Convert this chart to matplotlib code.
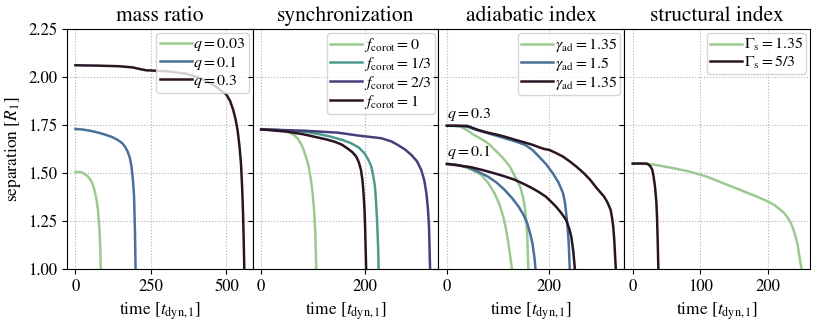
import numpy as np
import matplotlib
matplotlib.use("Agg")
import matplotlib.pyplot as plt

plt.rcParams['font.family'] = ['STIXGeneral', 'DejaVu Serif']
plt.rcParams['mathtext.fontset'] = 'stix'

green = '#9cc98f'
teal = '#4d9a90'
blue = '#4a7099'
indigo = '#453f7c'
dark = '#2a1424'

# mass ratio panel
t_q003 = [0, 15, 25, 35, 45, 55, 63, 70, 75, 79, 82, 84]
a_q003 = [1.505, 1.505, 1.50, 1.49, 1.475, 1.45, 1.41, 1.36, 1.30, 1.22, 1.12, 1.0]
t_q01 = [0, 20, 40, 60, 80, 100, 120, 140, 155, 165, 173, 180, 185, 190, 194, 197, 199]
a_q01 = [1.729, 1.727, 1.722, 1.716, 1.708, 1.699, 1.688, 1.672, 1.655, 1.635, 1.61,
         1.58, 1.54, 1.47, 1.38, 1.2, 1.0]
t_q03 = [0, 78, 144, 189, 211, 233, 300, 367, 411, 456, 500, 512, 522, 530, 537, 543,
         548, 552, 555, 557, 559]
a_q03 = [2.061, 2.059, 2.056, 2.050, 2.042, 2.035, 2.030, 2.017, 1.995, 1.960, 1.908,
         1.875, 1.83, 1.78, 1.72, 1.64, 1.55, 1.42, 1.28, 1.15, 1.0]

# synchronization panel
t_f0 = [0, 30, 44, 55, 63, 70, 76, 81, 86, 90, 92, 96, 99, 102, 104, 106]
a_f0 = [1.727, 1.724, 1.72, 1.71, 1.698, 1.68, 1.655, 1.625, 1.585, 1.55, 1.524, 1.46,
        1.394, 1.30, 1.2, 1.0]
t_f13 = [0, 40, 83, 110, 134, 155, 173, 188, 199, 206, 212, 216, 219, 221, 223, 225, 226]
a_f13 = [1.727, 1.723, 1.715, 1.703, 1.689, 1.673, 1.655, 1.632, 1.602, 1.57, 1.533,
         1.48, 1.429, 1.35, 1.255, 1.12, 1.0]
t_f23 = [0, 83, 147, 192, 215, 231, 250, 263, 277, 289, 300, 308, 314, 318, 321, 323, 325]
a_f23 = [1.727, 1.72, 1.71, 1.693, 1.686, 1.681, 1.665, 1.646, 1.622, 1.594, 1.56,
         1.516, 1.46, 1.394, 1.31, 1.22, 1.0]
t_f1 = [0, 50, 80, 102, 125, 141, 155, 166, 176, 183, 188, 192, 195, 197, 199, 200, 202]
a_f1 = [1.727, 1.715, 1.702, 1.689, 1.675, 1.663, 1.648, 1.628, 1.607, 1.585, 1.555,
        1.516, 1.46, 1.394, 1.3, 1.22, 1.0]

# adiabatic index panel, q=0.1 runs
t_g1_q01 = [0, 15, 33, 50, 67, 80, 93, 102, 110, 116, 120, 124, 127]
a_g1_q01 = [1.547, 1.545, 1.533, 1.515, 1.49, 1.45, 1.394, 1.34, 1.273, 1.2, 1.134, 1.06, 1.0]
t_g2_q01 = [0, 20, 40, 60, 80, 97, 113, 127, 140, 150, 157, 163, 167, 171, 173]
a_g2_q01 = [1.547, 1.542, 1.530, 1.508, 1.481, 1.45, 1.411, 1.37, 1.325, 1.28, 1.238,
            1.18, 1.134, 1.06, 1.0]
t_g3_q01 = [0, 20, 47, 70, 93, 113, 133, 150, 167, 180, 193, 203, 213, 223, 233, 239,
            243, 247, 250]
a_g3_q01 = [1.547, 1.540, 1.530, 1.515, 1.498, 1.482, 1.464, 1.443, 1.42, 1.40, 1.377,
            1.352, 1.325, 1.293, 1.255, 1.21, 1.168, 1.09, 1.0]
# adiabatic index panel, q=0.3 runs
t_g1_q03 = [0, 15, 27, 40, 53, 67, 80, 93, 107, 115, 123, 128, 133, 138, 143, 148, 152,
            155, 157, 158, 159]
a_g1_q03 = [1.746, 1.745, 1.741, 1.722, 1.698, 1.677, 1.655, 1.622, 1.585, 1.56, 1.533,
            1.507, 1.481, 1.455, 1.429, 1.38, 1.325, 1.25, 1.168, 1.08, 1.0]
t_g2_q03 = [0, 20, 40, 60, 80, 97, 113, 133, 153, 167, 180, 194, 207, 218, 227, 231,
            233, 236, 238, 240]
a_g2_q03 = [1.746, 1.745, 1.741, 1.722, 1.707, 1.694, 1.681, 1.665, 1.646, 1.62, 1.585,
            1.545, 1.498, 1.45, 1.394, 1.34, 1.29, 1.21, 1.134, 1.0]
t_g3_q03 = [0, 25, 40, 60, 80, 97, 113, 133, 153, 167, 180, 190, 200, 213, 227, 240,
            253, 267, 280, 293, 307, 314, 320, 323, 325, 327, 328, 330]
a_g3_q03 = [1.746, 1.746, 1.745, 1.725, 1.710, 1.70, 1.689, 1.673, 1.658, 1.647, 1.634,
            1.625, 1.620, 1.604, 1.585, 1.56, 1.533, 1.50, 1.464, 1.42, 1.377, 1.345,
            1.307, 1.26, 1.220, 1.15, 1.099, 1.0]

# structural index panel
t_s1 = [0, 15, 32, 57, 82, 108, 133, 158, 183, 198, 209, 218, 224, 230, 234, 238, 241,
        244, 246, 248, 250]
a_s1 = [1.549, 1.548, 1.543, 1.527, 1.509, 1.483, 1.448, 1.413, 1.378, 1.355, 1.335,
        1.31, 1.292, 1.265, 1.24, 1.205, 1.17, 1.13, 1.083, 1.04, 1.0]
t_s2 = [0, 18, 22, 26, 29, 31, 33, 35, 36, 37, 38]
a_s2 = [1.549, 1.549, 1.548, 1.535, 1.517, 1.48, 1.43, 1.35, 1.274, 1.15, 1.0]

titles = ['mass ratio', 'synchronization', 'adiabatic index', 'structural index']

fig, axes = plt.subplots(1, 4, figsize=(8.22, 3.24), dpi=100, sharey=True)
fig.subplots_adjust(left=0.0815, right=0.9854, top=0.9105, bottom=0.170, wspace=0)

lw = 1.8
ax = axes[0]
ax.plot(t_q003, a_q003, color=green, lw=lw, label=r'$q = 0.03$')
ax.plot(t_q01, a_q01, color=blue, lw=lw, label=r'$q = 0.1$')
ax.plot(t_q03, a_q03, color=dark, lw=lw, label=r'$q = 0.3$')

ax = axes[1]
ax.plot(t_f0, a_f0, color=green, lw=lw, label=r'$f_\mathrm{corot} = 0$')
ax.plot(t_f13, a_f13, color=teal, lw=lw, label=r'$f_\mathrm{corot} = 1/3$')
ax.plot(t_f23, a_f23, color=indigo, lw=lw, label=r'$f_\mathrm{corot} = 2/3$')
ax.plot(t_f1, a_f1, color=dark, lw=lw, label=r'$f_\mathrm{corot} = 1$')

ax = axes[2]
ax.plot(t_g1_q03, a_g1_q03, color=green, lw=lw, label=r'$\gamma_\mathrm{ad} = 1.35$')
ax.plot(t_g2_q03, a_g2_q03, color=blue, lw=lw, label=r'$\gamma_\mathrm{ad} = 1.5$')
ax.plot(t_g3_q03, a_g3_q03, color=dark, lw=lw, label=r'$\gamma_\mathrm{ad} = 1.35$')
ax.plot(t_g1_q01, a_g1_q01, color=green, lw=lw)
ax.plot(t_g2_q01, a_g2_q01, color=blue, lw=lw)
ax.plot(t_g3_q01, a_g3_q01, color=dark, lw=lw)
ax.text(0, 1.762, r'$q = 0.3$', fontsize=11.5, ha='left', va='bottom')
ax.text(0, 1.563, r'$q = 0.1$', fontsize=11.5, ha='left', va='bottom')

ax = axes[3]
ax.plot(t_s1, a_s1, color=green, lw=lw, label=r'$\Gamma_\mathrm{s} = 1.35$')
ax.plot(t_s2, a_s2, color=dark, lw=lw, label=r'$\Gamma_\mathrm{s} = 5/3$')

for i, ax in enumerate(axes):
    ax.set_title(titles[i], fontsize=15.5)
    ax.set_xlabel(r'time $[t_\mathrm{dyn,1}]$', fontsize=12.5)
    ax.grid(True, ls=':', color='#b0b0b0', lw=0.8)
    ax.tick_params(labelsize=12)
    ax.legend(loc='upper right', fontsize=11.5, handlelength=2.0, handletextpad=0.1,
              labelspacing=0.05, borderpad=0.2, borderaxespad=0.25)
axes[0].set_ylim(1.0, 2.25)
axes[0].set_yticks([1.0, 1.25, 1.5, 1.75, 2.0, 2.25])
axes[0].set_ylabel(r'separation $[R_1]$', fontsize=12.5)
axes[0].set_xticks([0, 250, 500])
axes[1].set_xticks([0, 200])
axes[2].set_xticks([0, 200])
axes[3].set_xticks([0, 100, 200])

fig.savefig('out.png', dpi=100)
